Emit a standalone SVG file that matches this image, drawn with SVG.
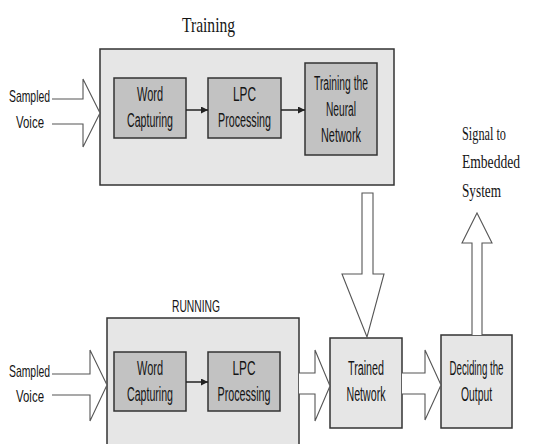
<svg xmlns="http://www.w3.org/2000/svg" width="545" height="444" viewBox="0 0 545 444">
<defs>
<style>
.outer{fill:#e6e6e6;stroke:#333;stroke-width:1.5}
.inner{fill:#c2c2c2;stroke:#333;stroke-width:1.5}
.node{fill:#e6e6e6;stroke:#333;stroke-width:1.5}
.blk{fill:#fff;stroke:#555;stroke-width:1.1;stroke-linejoin:miter}
.ln{stroke:#222;stroke-width:1.5;fill:none}
.s{font-family:"Liberation Sans",Arial,sans-serif;font-size:19.5px;fill:#151515;text-anchor:middle}
.sl{font-family:"Liberation Sans",Arial,sans-serif;font-size:17px;fill:#151515}
.t{font-family:"Liberation Serif","Times New Roman",serif;fill:#151515}
</style>
<marker id="ah" viewBox="0 0 10 10" refX="10" refY="5" markerWidth="7" markerHeight="7" orient="auto" markerUnits="userSpaceOnUse">
<path d="M0,0 L10,5 L0,10 z" fill="#222"/>
</marker>
</defs>
<rect width="545" height="444" fill="#fff"/>

<g id="training">
<text class="t" x="208.5" y="32" font-size="22" text-anchor="middle" textLength="53" lengthAdjust="spacingAndGlyphs">Training</text>
<rect class="outer" x="100" y="49" width="294" height="136"/>
</g>
<g id="t-word">
<rect class="inner" x="114" y="78" width="72" height="60"/>
<text class="s" x="150" y="101" textLength="26" lengthAdjust="spacingAndGlyphs">Word</text>
<text class="s" x="150" y="127" textLength="46" lengthAdjust="spacingAndGlyphs">Capturing</text>
</g>
<g id="t-lpc">
<rect class="inner" x="208" y="78" width="73" height="60"/>
<text class="s" x="244.5" y="101" textLength="23" lengthAdjust="spacingAndGlyphs">LPC</text>
<text class="s" x="244.5" y="127" textLength="53" lengthAdjust="spacingAndGlyphs">Processing</text>
</g>
<g id="t-nn">
<rect class="inner" x="305" y="63" width="72" height="92"/>
<text class="s" x="341" y="90" textLength="54" lengthAdjust="spacingAndGlyphs">Training the</text>
<text class="s" x="341" y="116" textLength="30" lengthAdjust="spacingAndGlyphs">Neural</text>
<text class="s" x="341" y="142" textLength="40" lengthAdjust="spacingAndGlyphs">Network</text>
</g>
<g id="t-input">
<text class="sl" x="9" y="102" textLength="41" lengthAdjust="spacingAndGlyphs">Sampled</text>
<text class="sl" x="16" y="128" textLength="28" lengthAdjust="spacingAndGlyphs">Voice</text>
</g>

<g id="running">
<text class="sl" x="172" y="312" textLength="48" lengthAdjust="spacingAndGlyphs">RUNNING</text>
<rect class="outer" x="107" y="318" width="192" height="140"/>
</g>
<g id="r-word">
<rect class="inner" x="114" y="352" width="72" height="59"/>
<text class="s" x="150" y="375" textLength="26" lengthAdjust="spacingAndGlyphs">Word</text>
<text class="s" x="150" y="401" textLength="46" lengthAdjust="spacingAndGlyphs">Capturing</text>
</g>
<g id="r-lpc">
<rect class="inner" x="208" y="352" width="72" height="59"/>
<text class="s" x="244" y="375" textLength="23" lengthAdjust="spacingAndGlyphs">LPC</text>
<text class="s" x="244" y="401" textLength="53" lengthAdjust="spacingAndGlyphs">Processing</text>
</g>
<g id="r-input">
<text class="sl" x="9" y="377" textLength="41" lengthAdjust="spacingAndGlyphs">Sampled</text>
<text class="sl" x="16" y="402" textLength="28" lengthAdjust="spacingAndGlyphs">Voice</text>
</g>
<g id="trained">
<rect class="node" x="330" y="338" width="72" height="90"/>
<text class="s" x="366" y="375" textLength="36" lengthAdjust="spacingAndGlyphs">Trained</text>
<text class="s" x="366" y="401" textLength="39" lengthAdjust="spacingAndGlyphs">Network</text>
</g>
<g id="deciding">
<rect class="node" x="441" y="335" width="71" height="93"/>
<text class="s" x="476.5" y="375" textLength="54" lengthAdjust="spacingAndGlyphs">Deciding the</text>
<text class="s" x="476.5" y="401" textLength="31" lengthAdjust="spacingAndGlyphs">Output</text>
</g>
<g id="signal">
<text class="t" x="462" y="140" font-size="19" textLength="44" lengthAdjust="spacingAndGlyphs">Signal to</text>
<text class="t" x="462" y="168" font-size="19" textLength="58" lengthAdjust="spacingAndGlyphs">Embedded</text>
<text class="t" x="462" y="197" font-size="19" textLength="39" lengthAdjust="spacingAndGlyphs">System</text>
</g>

<g id="connectors">
<line class="ln" x1="186" y1="110" x2="208" y2="110" marker-end="url(#ah)"/>
<line class="ln" x1="281" y1="110" x2="305" y2="110" marker-end="url(#ah)"/>
<line class="ln" x1="186" y1="382" x2="208" y2="382" marker-end="url(#ah)"/>
<path class="blk" d="M52,99 L83,99 L83,79 L100,113 L83,147 L83,124 L52,124"/>
<path class="blk" d="M52,374 L90,374 L90,350 L107,385 L90,421 L90,395 L52,395"/>
<path class="blk" d="M299,373 L315,373 L315,350 L330,386 L315,421 L315,394 L299,394"/>
<path class="blk" d="M402,373 L425,373 L425,350 L441,385 L425,420 L425,394 L402,394"/>
<path class="blk" d="M362,193 L373,193 L373,274 L384,274 L367,337 L342,274 L362,274 Z"/>
<path class="blk" d="M472,335 L472,243 L462,243 L477,213 L492,243 L482,243 L482,335"/>
</g>
</svg>
